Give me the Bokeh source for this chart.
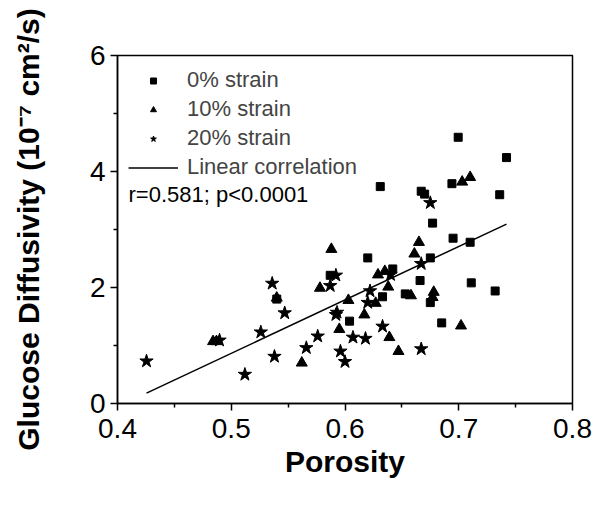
from bokeh.plotting import figure
from bokeh.models import Legend, LegendItem, Label, Range1d, FixedTicker
from bokeh.embed import file_html
from bokeh.resources import INLINE

# ---- data ----
sq_x = [0.6995, 0.742, 0.631, 0.667, 0.670, 0.694, 0.736, 0.677, 0.695, 0.710, 0.620, 0.675,
        0.642, 0.587, 0.666, 0.711, 0.732, 0.633, 0.653, 0.675, 0.604, 0.685, 0.540]
sq_y = [4.59, 4.24, 3.74, 3.66, 3.61, 3.79, 3.60, 3.11, 2.85, 2.78, 2.51, 2.51,
        2.32, 2.21, 2.12, 2.08, 1.94, 1.84, 1.89, 1.74, 1.42, 1.39, 1.80]

tri_x = [0.710, 0.703, 0.588, 0.665, 0.661, 0.629, 0.635, 0.578, 0.638, 0.603, 0.627, 0.658,
         0.678, 0.677, 0.617, 0.595, 0.702, 0.639, 0.647, 0.562, 0.484, 0.487, 0.540]
tri_y = [3.90, 3.82, 2.66, 2.78, 2.58, 2.22, 2.28, 1.99, 2.01, 1.78, 1.73, 1.86,
         1.92, 1.83, 1.53, 1.28, 1.34, 1.14, 0.90, 0.70, 1.07, 1.07, 1.82]

star_x = [0.675, 0.667, 0.592, 0.587, 0.640, 0.622, 0.620, 0.536, 0.547, 0.593, 0.592, 0.526,
          0.576, 0.607, 0.618, 0.633, 0.566, 0.596, 0.600, 0.538, 0.512, 0.667, 0.4255, 0.4897]
star_y = [3.46, 2.41, 2.21, 2.03, 2.22, 1.94, 1.74, 2.07, 1.56, 1.57, 1.53, 1.23,
          1.16, 1.14, 1.12, 1.33, 0.96, 0.90, 0.72, 0.81, 0.50, 0.94, 0.73, 1.09]

fit_slope = 9.21
fit_intercept = -3.74

x_ticks = [0.4, 0.5, 0.6, 0.7, 0.8]
x_minor = [0.45, 0.55, 0.65, 0.75]
y_ticks = [0, 2, 4, 6]
y_minor = [1, 3, 5]

series_labels = ["0% strain", "10% strain", "20% strain", "Linear correlation"]
stats_text = "r=0.581; p<0.0001"

FONT = "Liberation Sans"

all_x = sq_x + tri_x + star_x
fit_x = [min(all_x), max(all_x)]
fit_y = [fit_slope * v + fit_intercept for v in fit_x]

p = figure(width=594, height=497, output_backend="svg", toolbar_location=None,
           x_range=Range1d(0.4, 0.8), y_range=Range1d(0, 6),
           x_axis_label="Porosity", y_axis_label="Glucose Diffusivity (10⁻⁷ cm²/s)")
p.frame_width = 455
p.frame_height = 348
p.min_border_left = 117
p.min_border_right = 22
p.min_border_top = 55
p.min_border_bottom = 94
p.background_fill_color = "white"
p.border_fill_color = "white"
p.outline_line_color = "black"
p.outline_line_width = 1.5
p.xgrid.visible = False
p.ygrid.visible = False

r_sq = p.scatter(sq_x, sq_y, marker="square", size=8, color="black")
r_tri = p.scatter(tri_x, tri_y, marker="triangle", size=11, color="black")
r_star = p.scatter(star_x, star_y, marker="star", size=14, color="black")
r_line = p.line(fit_x, fit_y, line_color="black", line_width=1.5)

for ax in (p.xaxis[0], p.yaxis[0]):
    ax.axis_line_width = 1.5
    ax.major_tick_line_width = 1.5
    ax.minor_tick_line_width = 1.5
    ax.major_tick_out = 7
    ax.major_tick_in = 0
    ax.minor_tick_out = 4
    ax.minor_tick_in = 0
    ax.major_label_text_font = FONT
    ax.major_label_text_font_size = "28px"
    ax.major_label_text_color = "black"
    ax.axis_label_text_font = FONT
    ax.axis_label_text_font_size = "30px"
    ax.axis_label_text_font_style = "bold"
    ax.axis_label_text_color = "black"

p.xaxis[0].ticker = FixedTicker(ticks=x_ticks, minor_ticks=x_minor)
p.yaxis[0].ticker = FixedTicker(ticks=y_ticks, minor_ticks=y_minor)
p.xaxis[0].major_label_standoff = 8
p.xaxis[0].axis_label_standoff = 4
p.yaxis[0].major_label_standoff = 5
p.yaxis[0].axis_label_standoff = 42

legend = Legend(items=[LegendItem(label=series_labels[0], renderers=[r_sq]),
                       LegendItem(label=series_labels[1], renderers=[r_tri]),
                       LegendItem(label=series_labels[2], renderers=[r_star]),
                       LegendItem(label=series_labels[3], renderers=[r_line])],
                location="top_left", margin=5, padding=6, glyph_width=50, glyph_height=15,
                label_height=28, spacing=1, label_standoff=9,
                label_text_font=FONT, label_text_font_size="22px",
                border_line_alpha=0, background_fill_alpha=0)
p.add_layout(legend)

p.add_layout(Label(x=0.4097, y=3.603, text=stats_text, text_baseline="middle",
                   text_font=FONT, text_font_size="22px", text_color="black"))

open("out.html", "w").write(file_html(p, INLINE))
